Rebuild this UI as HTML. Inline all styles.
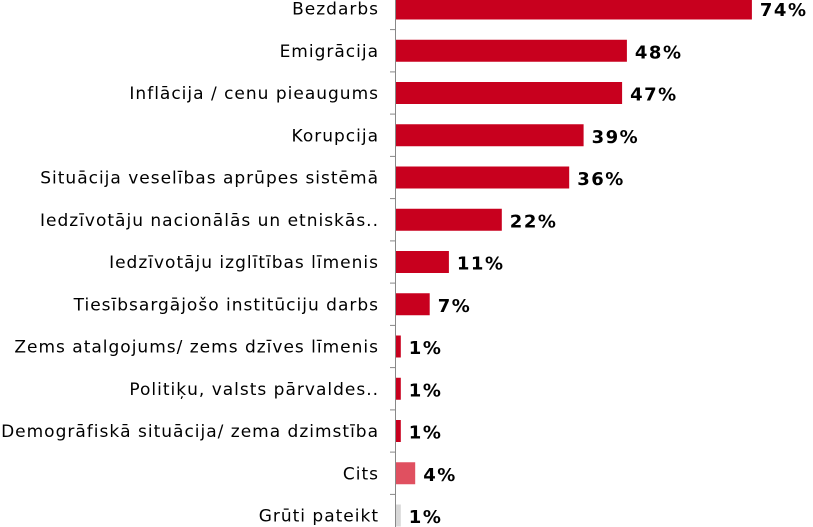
<!DOCTYPE html><html><head><meta charset="utf-8"><style>body{margin:0;background:#fff}</style></head><body>
<svg width="813" height="527" xmlns="http://www.w3.org/2000/svg" style="display:block" font-family="DejaVu Sans, Verdana, sans-serif" font-size="17">
<line x1="395.5" y1="0" x2="395.5" y2="527" stroke="#888"/>
<g stroke="#888">
<line x1="390" y1="29.6" x2="395" y2="29.6"/><line x1="390" y1="71.9" x2="395" y2="71.9"/><line x1="390" y1="114.1" x2="395" y2="114.1"/><line x1="390" y1="156.4" x2="395" y2="156.4"/><line x1="390" y1="198.6" x2="395" y2="198.6"/><line x1="390" y1="240.9" x2="395" y2="240.9"/><line x1="390" y1="283.1" x2="395" y2="283.1"/><line x1="390" y1="325.4" x2="395" y2="325.4"/><line x1="390" y1="367.6" x2="395" y2="367.6"/><line x1="390" y1="409.9" x2="395" y2="409.9"/><line x1="390" y1="452.1" x2="395" y2="452.1"/><line x1="390" y1="494.4" x2="395" y2="494.4"/>
</g>
<g fill="#c8001e">
<rect x="396" y="-2.5" width="355.9" height="22"/>
<rect x="396" y="39.75" width="230.9" height="22"/>
<rect x="396" y="82" width="226.1" height="22"/>
<rect x="396" y="124.25" width="187.6" height="22"/>
<rect x="396" y="166.5" width="173.2" height="22"/>
<rect x="396" y="208.75" width="105.8" height="22"/>
<rect x="396" y="251" width="52.9" height="22"/>
<rect x="396" y="293.25" width="33.7" height="22"/>
<rect x="396" y="335.5" width="4.8" height="22"/>
<rect x="396" y="377.75" width="4.8" height="22"/>
<rect x="396" y="420" width="4.8" height="22"/>
</g>
<rect x="396" y="462.25" width="19.2" height="22" fill="#e05060"/>
<rect x="396" y="504.5" width="4.8" height="22" fill="#d8d8d8"/>
<g text-anchor="end" fill="#000" letter-spacing="1">
<text x="379" y="14.5">Bezdarbs</text>
<text x="379" y="56.75">Emigrācija</text>
<text x="379" y="99">Inflācija / cenu pieaugums</text>
<text x="379" y="141.25">Korupcija</text>
<text x="379" y="183.5">Situācija veselības aprūpes sistēmā</text>
<text x="379" y="225.75">Iedzīvotāju nacionālās un etniskās..</text>
<text x="379" y="268">Iedzīvotāju izglītības līmenis</text>
<text x="379" y="310.25">Tiesībsargājošo institūciju darbs</text>
<text x="379" y="352.5">Zems atalgojums/ zems dzīves līmenis</text>
<text x="379" y="394.75">Politiķu, valsts pārvaldes..</text>
<text x="379" y="437">Demogrāfiskā situācija/ zema dzimstība</text>
<text x="379" y="479.25">Cits</text>
<text x="379" y="521.5">Grūti pateikt</text>
</g>
<g font-weight="bold" font-size="18" letter-spacing="1.5" fill="#000">
<text x="759.9" y="16">74%</text>
<text x="634.9" y="58.25">48%</text>
<text x="630.1" y="100.5">47%</text>
<text x="591.6" y="142.75">39%</text>
<text x="577.2" y="185">36%</text>
<text x="509.8" y="227.25">22%</text>
<text x="456.9" y="269.5">11%</text>
<text x="437.7" y="311.75">7%</text>
<text x="408.8" y="354">1%</text>
<text x="408.8" y="396.25">1%</text>
<text x="408.8" y="438.5">1%</text>
<text x="423.2" y="480.75">4%</text>
<text x="408.8" y="523">1%</text>
</g>
</svg></body></html>
